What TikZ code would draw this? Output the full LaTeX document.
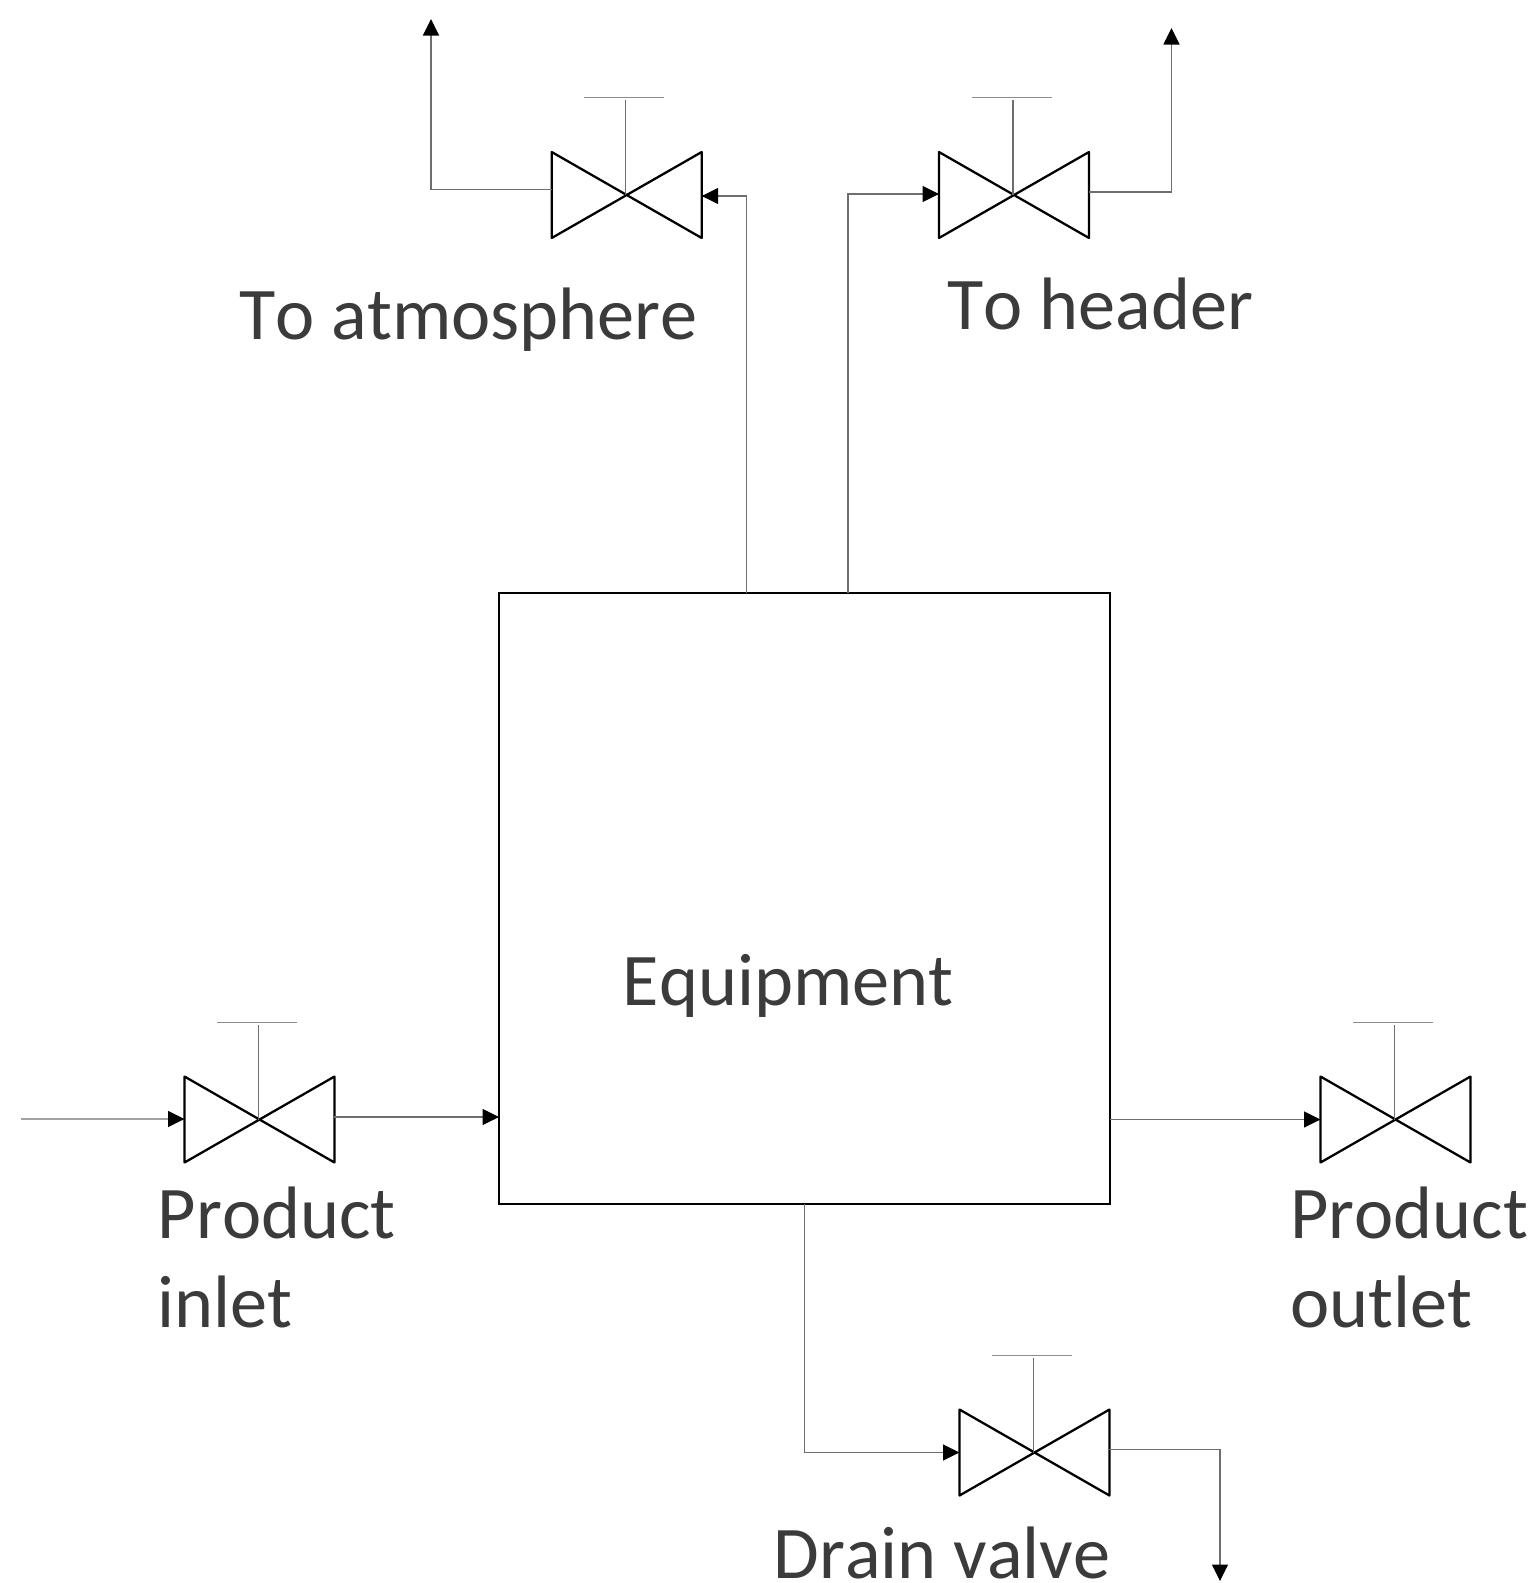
\documentclass[tikz,border=0pt]{standalone}
\usepackage{fontspec}
\setmainfont[Kerning=Off]{Carlito}
\usetikzlibrary{positioning,arrows.meta}
\definecolor{pipegray}{HTML}{6E6E6E}
\definecolor{handlegray}{HTML}{8C8C8C}
\definecolor{labelgray}{HTML}{3B3B3B}
\tikzset{
    processbox/.style={draw, line width=1.3pt, minimum size=12.22cm, inner sep=0pt, outer sep=0pt},
    processlabel/.style={anchor=base west, align=left, inner sep=0pt, text=labelgray, font=\fontsize{42.3}{51.8}\selectfont},
    processpipe/.style={draw=pipegray, line width=0.6pt},
    processarrow/.style={processpipe, -{Triangle[length=0.33cm, width=0.32cm, fill=black, color=black]}},
    processvalve/.style={minimum width=3cm, minimum height=1.72cm, inner sep=0pt, outer sep=0pt,
        append after command={\pgfextra{
            \draw[line width=1.3pt, line join=round] (\tikzlastnode.north west) -- (\tikzlastnode.south east)
                -- (\tikzlastnode.north east) -- (\tikzlastnode.south west) -- cycle;
            \draw[pipegray, line width=0.6pt] ([xshift=-0.02cm]\tikzlastnode.center) -- ++(0cm,1.9cm);
            \draw[handlegray, line width=0.6pt] ([xshift=-0.85cm, yshift=1.95cm]\tikzlastnode.center) -- ++(1.6cm,0cm);
        }}}
}
\begin{document}
\begin{tikzpicture}[x=0.02cm, y=-0.02cm]
    \useasboundingbox (0,0) rectangle (1537,1583);
    \node[processbox] (equipment) at (804.5,898.5) {};
    \node[processvalve] (atmvalve) at (626.7,195) {};
    \node[processvalve] (headervalve) at (1014,195) {};
    \node[processvalve] (inletvalve) at (259.5,1119.5) {};
    \node[processvalve] (outletvalve) at (1395.5,1119.5) {};
    \node[processvalve] (drainvalve) at (1034.5,1452.5) {};

    \node[processlabel] (atmlabel) at (239,339) {To atmosphere};
    \node[processlabel] (headerlabel) at (947,329) {To header};
    \node[processlabel] (equipmentlabel) at (622.5,1005) {Equipment};
    \node[processlabel] (inletlabel) at (157.5,1238) {Product};
    \node[processlabel, below=0.74cm of inletlabel.south west, anchor=north west] (inletlabeltwo) {inlet};
    \node[processlabel] (outletlabel) at (1290,1238) {Product};
    \node[processlabel, below=0.74cm of outletlabel.south west, anchor=north west] (outletlabeltwo) {outlet};
    \node[processlabel] (drainlabel) at (773,1578) {Drain valve};

    \coordinate (atmend) at (431,19);
    \coordinate (headerend) at (1171.5,28);
    \coordinate (inletstart) at (21,1119);
    \coordinate (drainend) at (1220,1581);

    \draw[processarrow] ([yshift=0.11cm]atmvalve.west) -| (atmend);
    \draw[processarrow] ([xshift=-1.156cm]equipment.north) |- ([yshift=-0.02cm]atmvalve.east);
    \draw[processarrow] ([xshift=0.87cm]equipment.north) |- ([yshift=0.02cm]headervalve.west);
    \draw[processarrow] ([yshift=0.06cm]headervalve.east) -| (headerend);
    \draw[processarrow] (inletstart) -- ([yshift=0.01cm]inletvalve.west);
    \draw[processarrow] ([yshift=0.05cm]inletvalve.east) -- ([yshift=0.05cm]inletvalve.east -| equipment.west);
    \draw[processarrow] (outletvalve.west -| equipment.east) -- (outletvalve.west);
    \draw[processarrow] (equipment.south) |- (drainvalve.west);
    \draw[processarrow] ([yshift=0.06cm]drainvalve.east) -| (drainend);
\end{tikzpicture}
\end{document}
